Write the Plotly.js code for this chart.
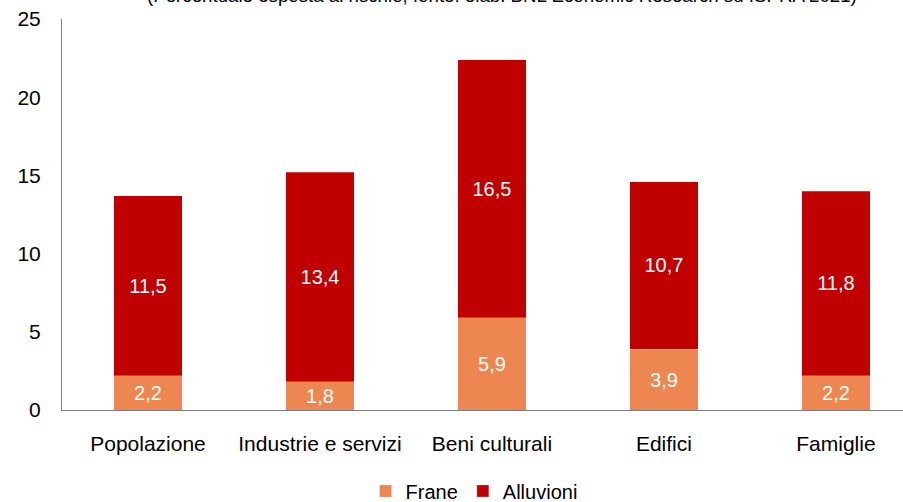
<!DOCTYPE html>
<html>
<head>
<meta charset="utf-8">
<script src="https://cdn.plot.ly/plotly-3.0.1.min.js"></script>
<style>html,body{margin:0;padding:0;background:#fff;}#chart{width:903px;height:502px;}</style>
</head>
<body>
<div id="chart"></div>
<script>
const categories = ["Popolazione", "Industrie e servizi", "Beni culturali", "Edifici", "Famiglie"];
const frane = [2.2, 1.8, 5.9, 3.9, 2.2];
const alluvioni = [11.5, 13.4, 16.5, 10.7, 11.8];
const yTicks = [0, 5, 10, 15, 20, 25];
const titleText = "(Percentuale esposta al rischio; fonte: elab. BNL Economic Research su ISPRA 2021)";

const fmt = v => v.toFixed(1).replace('.', ',');
const font = "Liberation Sans, Arial, sans-serif";

const traces = [
  {type: 'bar', name: 'Frane', x: categories, y: frane, text: frane.map(fmt),
   textposition: 'inside', insidetextanchor: 'middle', textangle: 0,
   textfont: {color: '#ffffff', size: 20, family: font},
   marker: {color: '#ED8650', line: {color: 'rgba(255,255,255,0.5)', width: 0.5}}, width: 0.4},
  {type: 'bar', name: 'Alluvioni', x: categories, y: alluvioni, text: alluvioni.map(fmt),
   textposition: 'inside', insidetextanchor: 'middle', textangle: 0,
   textfont: {color: '#ffffff', size: 20, family: font},
   marker: {color: '#C00000', line: {color: 'rgba(255,255,255,0.5)', width: 0.5}}, width: 0.4}
];

const layout = {
  width: 903, height: 502,
  margin: {l: 62, r: 0, t: 19, b: 92, autoexpand: false},
  barmode: 'stack',
  paper_bgcolor: '#ffffff', plot_bgcolor: '#ffffff',
  font: {family: font, size: 20, color: '#000000'},
  showlegend: true,
  legend: {orientation: 'h', xref: 'paper', x: 0.49, xanchor: 'center',
           yref: 'container', y: 0.022, yanchor: 'middle',
           font: {size: 20, family: font}, itemwidth: 30, traceorder: 'normal'},
  xaxis: {type: 'category', range: [-0.5, 4.39], showgrid: false, zeroline: false,
          showline: true, linecolor: '#808080', linewidth: 1,
          ticks: 'outside', ticklen: 15, tickcolor: 'rgba(0,0,0,0)',
          tickfont: {size: 21, family: font}},
  yaxis: {range: [0, 25], tickvals: yTicks, ticktext: yTicks.map(String),
          showgrid: false, zeroline: false, showline: true, linecolor: '#808080', linewidth: 1,
          ticks: 'outside', ticklen: 16, tickcolor: 'rgba(0,0,0,0)',
          tickfont: {size: 21, family: font}},
  annotations: [{text: titleText, xref: 'paper', yref: 'paper', x: 0.523, y: 1, xanchor: 'center',
                 yanchor: 'bottom', yshift: 11, showarrow: false, font: {size: 18.7, family: font}}]
};

Plotly.newPlot('chart', traces, layout, {displayModeBar: false, staticPlot: true});
</script>
</body>
</html>
